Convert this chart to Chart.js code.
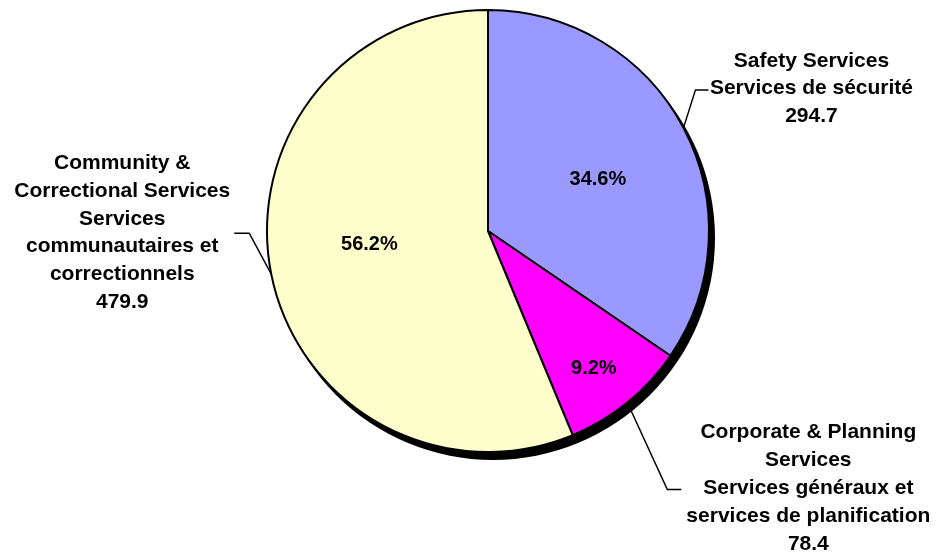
<!DOCTYPE html>
<html>
<head>
<meta charset="utf-8">
<script src="https://cdn.jsdelivr.net/npm/chart.js@4.4.0/dist/chart.umd.min.js"></script>
<style>
  html, body { margin: 0; padding: 0; background: #fff; }
  #wrap { width: 938px; height: 559px; position: relative; }
</style>
</head>
<body>
<div id="wrap"><canvas id="pie"></canvas></div>
<script>
// data
const labels = [
    ['Safety Services', 'Services de sécurité'],
    ['Corporate & Planning', 'Services', 'Services généraux et', 'services de planification'],
    ['Community &', 'Correctional Services', 'Services', 'communautaires et', 'correctionnels']
];
const values = [294.7, 78.4, 479.9];
const pctLabels = ['34.6%', '9.2%', '56.2%'];
const colours = ['#9999FF', '#FF00FF', '#FFFFCC'];

// where the percent text sits inside each slice (fraction of radius, angle nudge in deg)
const pctRadius = [0.55, 0.785, 0.54];
const pctNudge = [2.5, 1.5, 5];
// leader elbow + label anchor, relative to the point on the edge
const leader = [
    { elbow: [12, -38], end: [25, -38], text: [128, -67] },
    { elbow: [40, 87], end: [54, 87], text: [181, 30] },
    { elbow: [-22, -41], end: [-37, -41], text: [-149, -111] }
];

const font = 'bold 21px "Liberation Sans", Arial, sans-serif';
const pctFont = 'bold 20px "Liberation Sans", Arial, sans-serif';
const lineH = 27.8;

function edgePoint(arc) {
    const mid = (arc.startAngle + arc.endAngle) / 2;
    return [arc.x + Math.cos(mid) * arc.outerRadius, arc.y + Math.sin(mid) * arc.outerRadius];
}

const shadowPlugin = {
    id: 'shadow',
    beforeDatasetsDraw(chart) {
        const meta = chart.getDatasetMeta(0);
        const arc = meta.data[0];
        const ctx = chart.ctx;
        ctx.save();
        // leader lines first so the pie covers their start
        ctx.strokeStyle = '#000';
        ctx.lineWidth = 1.5;
        meta.data.forEach((a, i) => {
            const [ex, ey] = edgePoint(a);
            const l = leader[i];
            ctx.beginPath();
            ctx.moveTo(ex, ey);
            ctx.lineTo(ex + l.elbow[0], ey + l.elbow[1]);
            ctx.lineTo(ex + l.end[0], ey + l.end[1]);
            ctx.stroke();
        });
        ctx.fillStyle = '#000';
        ctx.beginPath();
        ctx.arc(arc.x + 5, arc.y + 7, arc.outerRadius + 1, 0, Math.PI * 2);
        ctx.fill();
        ctx.restore();
    }
};

const labelPlugin = {
    id: 'pieLabels',
    afterDatasetsDraw(chart) {
        const ctx = chart.ctx;
        const meta = chart.getDatasetMeta(0);
        ctx.save();
        ctx.fillStyle = '#000';
        ctx.textBaseline = 'middle';
        ctx.textAlign = 'center';
        meta.data.forEach((arc, i) => {
            const mid = (arc.startAngle + arc.endAngle) / 2 + pctNudge[i] * Math.PI / 180;
            const R = arc.outerRadius;
            ctx.font = pctFont;
            ctx.fillText(pctLabels[i], arc.x + Math.cos(mid) * R * pctRadius[i], arc.y + Math.sin(mid) * R * pctRadius[i]);

            const [ex, ey] = edgePoint(arc);
            const l = leader[i];
            const lines = labels[i].concat([values[i].toFixed(1)]);
            ctx.font = font;
            lines.forEach((t, k) => {
                ctx.fillText(t, ex + l.text[0], ey + l.text[1] + k * lineH);
            });
        });
        ctx.restore();
    }
};

window.onload = () => {
    new Chart(document.getElementById('pie'), {
        type: 'pie',
        data: {
            labels: labels.map(l => l.join(' ')),
            datasets: [{
                data: values,
                backgroundColor: colours,
                borderColor: '#000',
                borderWidth: 2
            }]
        },
        options: {
            responsive: true,
            maintainAspectRatio: false,
            animation: false,
            layout: { padding: { top: 9, bottom: 106, left: 266, right: 228 } },
            plugins: {
                legend: { display: false },
                tooltip: { enabled: false }
            }
        },
        plugins: [shadowPlugin, labelPlugin]
    });
};
</script>
</body>
</html>
